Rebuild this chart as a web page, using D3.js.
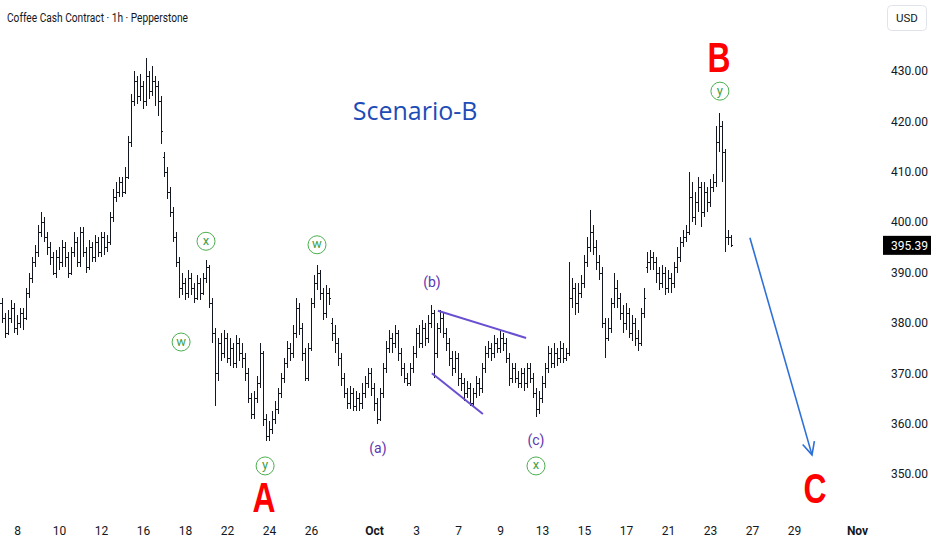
<!DOCTYPE html>
<html><head><meta charset="utf-8">
<script src="https://cdn.jsdelivr.net/npm/d3@7"></script>
<style>
body{margin:0;background:#fff;}
svg{display:block;font-family:Roboto,"Liberation Sans",sans-serif;}
</style>
</head><body>
<svg id="c" width="932" height="550"></svg>
<script>
// ---------- DATA ----------
const opens = [383,384,381,378,381,383,379,380,382,381,
386,389,392,394,398,400,397,395,393,390,
393,392,395,393,390,394,396,392,398,394,
391,395,393,396,394,397,395,396,401,405,
406,408,406,409,416,424,428,425,427,424,
429,426,428,427,424,413,410,406,402,397,
392,387,388,386,389,387,385,388,386,389,
391,384,378,370,376,374,377,373,375,372,
376,374,373,370,365,362,365,368,374,361,
357.5,359,361,363,366,369,372,375,374,378,
383,379,374,369,375,384,388,390,386,382,
386,380,378,376,373,369,366,364,366,363.5,
365,364,366,368,370,367,364,361,366,371,
375,377,376,378,374,371,369,368,371,374,
378,376,379,377,380,382,374,379,381,378,
376,373,371,373,369,368,366,367,364,366,
368,367,371,374,375,374,376,375,377,376,
373,369,371,369,368,370,368,371,369,366,
363,365,368,371,374,372,374,373,375,373,
374,385,387,384,386,388,392,395,398,395,
392,390,380,377,379,384,387,385,382,380,
382,378,380,377,376,382,391,392,393,392,
390,388,390,387,389,388,391,393,396,397,
398,405,401,404,407,402,406,404,407,408,
416,419,414,397,397];
const highs = [385.5,385,382,382.5,384.5,384,381.5,383,383,387,
390,393,395.5,399.5,402,401,398,396,394,394.5,
395,396.5,396,394,395,398,397,399,399,395,
396.5,396,397.5,397,398,398,397.5,402,406.5,408,
409,409,411,417,425.5,430,429,429.5,428,432.5,
430,431,429,428,425,414,411,407,403,398,
393,390,389,390.5,390,388,389.5,389,390,392.5,
391.5,385,379,377,378,378.5,378,377,376,377.5,
377,376,374,371,366,366.5,369.5,376,374.5,362,
360.5,362.5,364.5,367,370,373,376.5,376,379.5,385,
384,380,375,376,385,389.5,391.5,390.5,387,387.5,
387,381,379.5,377,374,370,367,367.5,367,366.5,
366,368,369.5,371,371,368,365,367,372,376.5,
378.5,378,379.5,378.5,375,372,370,372,375.5,379,
379.5,380.5,380,381.5,383.5,382.5,380,382.5,382,379,
377,374.5,374.5,374,370,369,368.5,368,367,369.5,
369,372,375.5,376.5,376,377.5,377,378.5,378,377,
374,372,372,370.5,371,371,372,372,370,367,
366.5,369.5,372,375.5,375,376,375,376.5,376,375,
392,389,388,388,389.5,393.5,397,402.5,399.5,396.5,
393.5,391,381,381,385,390,388.5,386,383.5,384,
383,381.5,381,378.5,383,387,394,394.5,394,393,
391,391.5,391,390.5,390,392,395,397,398.5,399.5,
410,408,406,409,408,408,407,408.5,409.5,419,
421.7,420,414.5,398.5,397.5];
const lows = [381,380,377,377.5,380,378,377.5,379,378.5,380.5,
385,388,391,393,397,396,393.5,391.5,389.5,389,
390.5,391,391,389,389.5,393,391,391,393,390,
390.5,392,392,393,393,393.5,394,395.5,400,404,
405,405,405.5,408.5,415,423,423.5,424,422.5,423,
424.5,425,423,421,415.5,409,404.5,401,396,391,
385,385.5,384.5,385,385.5,384,384.5,384.5,385.5,388,
383,376,363.5,368.5,372.5,373,372,371.5,371,371,
372.5,371,368.5,364,361,361,364,367,359.5,356.5,
356.5,358,360,362,365,368,371,372.5,373,377,
377.5,372.5,368.5,368.5,374.5,383,386.5,384.5,380.5,381,
383.5,376.5,374,371.5,367.5,365,363,363,362.5,362.5,
362.5,363,365,367,365.5,362.5,360,360.5,365,370,
374,374,375,372.5,369.5,368,367.5,367.5,370,373,
375,375,375.5,376,379,369,373,378,377,374.5,
371.5,369.5,370,367.5,366.5,364.5,365,363.5,363.5,365,
365.5,366,370,373,372.5,373,374,374,374.5,372,
367.5,368,368,367,367,366.5,367,368,365,361.3,
362,364,367,370,371,371,371.5,372,372,372.5,
373.5,383,381.5,382,385,387,391,394,393.5,390.5,
388.5,379,373,376.5,378,383,383,380.5,378,378.5,
377,376.5,375.5,374.5,375.5,381,390,390.5,390.5,388,
386.5,387,385.5,386,386,387,390,392,395,396,
397.5,400,399.5,402,399,401,402,403,406,407,
414,408,394,395.5,395];
const closes = [384,381,378,381,383,379,380,382,381,386,
389,392,394,398,400,397,395,393,390,393,
392,395,393,390,394,396,392,398,394,391,
395,393,396,394,397,395,396,401,405,406,
408,406,409,416,424,428,425,427,424,429,
426,428,427,424,418,410,406,402,397,392,
387,388,386,389,387,385,388,386,389,391,
384,378,370,376,374,377,373,375,372,376,
374,373,370,365,362,365,368,374,361,357.5,
359,361,363,366,369,372,375,374,378,383,
379,374,369,375,384,388,390,386,382,386,
385,378,376,373,369,366,364,366,363.5,365,
364,366,368,370,367,364,361,366,371,375,
377,376,378,374,371,369,368,371,374,378,
376,379,377,380,382,374,379,381,378,376,
373,371,373,369,368,366,367,364,366,368,
367,371,374,375,374,376,375,377,376,373,
369,371,369,368,370,368,371,369,366,363,
365,368,371,374,372,374,373,375,373,374,
385,387,384,386,388,392,395,398,395,392,
390,380,377,379,384,387,385,382,380,382,
378,380,377,376,382,385,392,393,392,390,
388,390,387,389,388,391,393,396,397,398,
405,401,404,407,402,406,404,407,408,416,
419,414,397,397,395.39];

const barsPerDay = 7;          // hourly bars drawn per trading day
const firstDayBar = 6;         // bar index where the "8" (Sep 8) session starts
const dayTickIdx = [0,2,4,6,8,10,12,14,17,19,21,23,25,27,29,31,33,35,37,40];
const dayTickLabels = ["8","10","12","16","18","22","24","26","Oct","3","7","9","13","15","17","21","23","27","29","Nov"];
const priceTicks = [350,360,370,380,390,400,410,420,430];
const lastPrice = 395.39;

// wave annotations: [text, bar index, price]
const circleLabels = [["y",240.3,426.0],["x",69,396.2],["w",60.7,376.2],["w",106,395.5],["y",88.7,351.6],["x",179,351.6]];
const minorLabels = [["(b)",144.3,388.1],["(a)",126.3,355.2],["(c)",179,356.8]];
const majorLabels = [["B",240,432.6],["A",88.3,345.3],["C",272,347.2]];
const wedgeLines = [[146.3,382.4,175.7,377.0],[144.3,370.0,161.3,361.9]];
const projection = [250.3,396.9,271,353.8];

// ---------- CHART ----------
const svg = d3.select("#c");
const xDay = d3.scaleLinear().domain([0,40]).range([17,857]);
const xBar = i => xDay((i - firstDayBar) / barsPerDay);
const y = d3.scaleLinear().domain([350,430]).range([474,71]);

const bars = closes.map((c,i)=>({i,o:opens[i],h:highs[i],l:lows[i],c}));

// OHLC bars
const g = svg.append("g").attr("shape-rendering","crispEdges").attr("fill","#131722");
bars.forEach(b=>{
  const x = Math.round(xBar(b.i));
  const yh = Math.round(y(b.h)), yl = Math.round(y(b.l));
  g.append("rect").attr("x",x).attr("y",yh).attr("width",1).attr("height",Math.max(1,yl-yh));
  g.append("rect").attr("x",x-1).attr("y",Math.round(y(b.o))).attr("width",1).attr("height",1);
  g.append("rect").attr("x",x+1).attr("y",Math.round(y(b.c))).attr("width",1).attr("height",1);
});

// Title
svg.append("text").attr("x",7).attr("y",22).attr("font-size",12.5).attr("fill","#131722")
  .attr("textLength",181).attr("lengthAdjust","spacingAndGlyphs")
  .text("Coffee Cash Contract · 1h · Pepperstone");

// USD box
svg.append("rect").attr("x",887.5).attr("y",5.5).attr("width",39).attr("height",25).attr("rx",4)
  .attr("fill","#fff").attr("stroke","#e0e3eb");
svg.append("text").attr("x",907).attr("y",22).attr("text-anchor","middle").attr("font-size",11.5)
  .attr("fill","#131722").text("USD");

// Y axis
const yAxis = d3.axisRight(y).tickValues(priceTicks).tickFormat(d3.format(".2f")).tickSize(0).tickPadding(0);
const ya = svg.append("g").attr("transform","translate(928,0)").call(yAxis);
ya.select(".domain").remove();
ya.selectAll("text").attr("text-anchor","end").attr("font-size",12).attr("fill","#131722")
  .attr("font-family","Roboto,'Liberation Sans',sans-serif");

// last price tag
svg.append("rect").attr("x",883).attr("y",y(lastPrice)-9.5).attr("width",48).attr("height",19).attr("fill","#000");
svg.append("text").attr("x",928).attr("y",y(lastPrice)+4.5).attr("text-anchor","end").attr("font-size",12)
  .attr("fill","#fff").text(d3.format(".2f")(lastPrice));

// X axis
const xAxis = d3.axisBottom(xDay).tickValues(dayTickIdx).tickFormat((d,i)=>dayTickLabels[i]).tickSize(0).tickPadding(0);
const xa = svg.append("g").attr("transform","translate(0,526)").call(xAxis);
xa.select(".domain").remove();
xa.selectAll("text").attr("font-size",12).attr("fill","#131722")
  .attr("font-family","Roboto,'Liberation Sans',sans-serif")
  .attr("font-weight",(d,i)=>(dayTickLabels[i]==="Oct"||dayTickLabels[i]==="Nov")?"bold":"normal");

// Scenario label
svg.append("text").attr("x",xBar(138.7)).attr("y",y(422.3)).attr("text-anchor","middle")
  .attr("dominant-baseline","central").attr("font-size",25).attr("fill","#1c4cb8")
  .attr("font-family","'Open Sans','Liberation Sans',sans-serif").text("Scenario-B");

// wedge lines
wedgeLines.forEach(w=>{
  svg.append("line").attr("x1",xBar(w[0])).attr("y1",y(w[1])).attr("x2",xBar(w[2])).attr("y2",y(w[3]))
    .attr("stroke","#6a4fd0").attr("stroke-width",2);
});

// circle labels
circleLabels.forEach(d=>{
  const cx = xBar(d[1]), cy = y(d[2]);
  svg.append("circle").attr("cx",cx).attr("cy",cy).attr("r",9).attr("fill","#fff")
    .attr("stroke","#4caf50").attr("stroke-width",1);
  svg.append("text").attr("x",cx).attr("y",cy-1).attr("text-anchor","middle").attr("dominant-baseline","central")
    .attr("font-size",13).attr("fill","#43a047").text(d[0]);
});

// minor labels
minorLabels.forEach(d=>{
  svg.append("text").attr("x",xBar(d[1])).attr("y",y(d[2])).attr("text-anchor","middle").attr("dominant-baseline","central")
    .attr("font-size",14).attr("fill","#5e35b1").text(d[0]);
});

// major labels
majorLabels.forEach(d=>{
  svg.append("text").attr("x",xBar(d[1])).attr("y",y(d[2])).attr("text-anchor","middle").attr("dominant-baseline","central")
    .attr("font-size",42).attr("font-weight","bold").attr("fill","#ff0000")
    .attr("font-family","'Liberation Sans',Arial,sans-serif")
    .attr("textLength",23).attr("lengthAdjust","spacingAndGlyphs").text(d[0]);
});

// projection arrow
const ax1 = xBar(projection[0]), ay1 = y(projection[1]), ax2 = xBar(projection[2]), ay2 = y(projection[3]);
svg.append("line").attr("x1",ax1).attr("y1",ay1).attr("x2",ax2).attr("y2",ay2)
  .attr("stroke","#2f6fd8").attr("stroke-width",1.6);
const ang = Math.atan2(ay2-ay1, ax2-ax1), hl = 14, spread = 0.45;
svg.append("path")
  .attr("d",`M${ax2-hl*Math.cos(ang-spread)},${ay2-hl*Math.sin(ang-spread)}L${ax2},${ay2}L${ax2-hl*Math.cos(ang+spread)},${ay2-hl*Math.sin(ang+spread)}`)
  .attr("fill","none").attr("stroke","#2f6fd8").attr("stroke-width",1.6);
</script>
</body></html>
